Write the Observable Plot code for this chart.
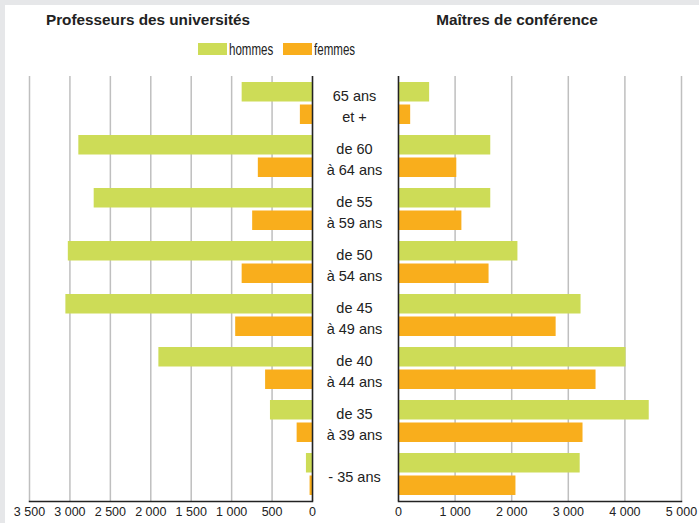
<!DOCTYPE html>
<html><head><meta charset="utf-8">
<script src="https://cdn.jsdelivr.net/npm/d3@7"></script>
<script src="https://cdn.jsdelivr.net/npm/@observablehq/plot@0.6"></script>
<style>
html,body{margin:0;padding:0;background:#e6e7e9;}
#wrap{position:relative;width:699px;height:523px;overflow:hidden;}
#panel{position:absolute;left:5px;top:5px;width:694px;height:518px;background:#fff;}
.title{position:absolute;top:11px;font:bold 15.3px "Liberation Sans",Arial,sans-serif;color:#222;white-space:nowrap;transform:translateX(-50%);}
.sw{position:absolute;top:43px;width:29px;height:12px;}
.lt{position:absolute;top:40px;font:16.5px "Liberation Sans",Arial,sans-serif;color:#222;transform:scaleX(0.7);transform-origin:left center;}
#left,#right{position:absolute;top:0;}
#left{left:0;} #right{left:340px;}
svg{overflow:visible;}
</style></head>
<body>
<div id="wrap"><div id="panel"></div>
<div class="title" style="left:148px">Professeurs des universités</div>
<div class="title" style="left:517px">Maîtres de conférence</div>
<div class="sw" style="left:198px;background:#cddc57"></div><div class="lt" style="left:229px">hommes</div>
<div class="sw" style="left:283px;background:#f9ae1c"></div><div class="lt" style="left:314px">femmes</div>
<div id="left"></div><div id="right"></div>
</div>
<script>
const ages = ["65 ans\net +","de 60\nà 64 ans","de 55\nà 59 ans","de 50\nà 54 ans","de 45\nà 49 ans","de 40\nà 44 ans","de 35\nà 39 ans","- 35 ans"];
const sexes = ["hommes","femmes"];
const colors = ["#cddc57","#f9ae1c"];
const pruHommes = [870, 2890, 2700, 3020, 3050, 1900, 520, 75];
const pruFemmes = [150, 670, 740, 870, 950, 580, 190, 30];
const mcfHommes = [550, 1630, 1630, 2110, 3225, 4020, 4430, 3210];
const mcfFemmes = [215, 1030, 1120, 1600, 2785, 3490, 3260, 2075];
const pruTicks = [0, 500, 1000, 1500, 2000, 2500, 3000, 3500];
const mcfTicks = [0, 1000, 2000, 3000, 4000, 5000];

const fmt = d => d3.format(",")(d).replace(/,/g, " ");
const rows = (h, f) => ages.flatMap((a, i) => [{age: a, sex: "hommes", v: h[i]}, {age: a, sex: "femmes", v: f[i]}]);
const style = {fontFamily: '"Liberation Sans",Arial,sans-serif', fontSize: "12.5px", color: "#222", background: "transparent", overflow: "visible"};

function panel(data, ticks, opts, extra) {
  return Plot.plot({
    ...opts,
    height: 523, marginTop: 76, marginBottom: 22,
    style,
    x: {domain: [ticks[0], ticks[ticks.length - 1]], reverse: opts.reverse, ticks, tickFormat: fmt, tickSize: 0, tickPadding: 6, label: null},
    y: {domain: ages, paddingInner: 0.2, paddingOuter: 0.1, axis: null},
    color: {domain: sexes, range: colors},
    marks: [
      Plot.ruleX(ticks, {stroke: "#bfbfbf", strokeWidth: 1.5}),
      Plot.barX(data.filter(d => d.sex === "hommes"), {x: "v", y: "age", fill: "sex", insetBottom: 22.5}),
      Plot.barX(data.filter(d => d.sex === "femmes"), {x: "v", y: "age", fill: "sex", insetTop: 22.5}),
      Plot.ruleX([0], {stroke: "#222", strokeWidth: 1.5}),
      Plot.frame({anchor: "bottom", stroke: "#222", strokeWidth: 1.5}),
      ...extra
    ]
  });
}

document.getElementById("left").append(panel(rows(pruHommes, pruFemmes), pruTicks,
  {width: 340, marginLeft: 29, marginRight: 28, reverse: true}, []));
document.getElementById("right").append(panel(rows(mcfHommes, mcfFemmes), mcfTicks,
  {width: 359, marginLeft: 58, marginRight: 18, reverse: false},
  [Plot.text(ages, {y: d => d, text: d => d, frameAnchor: "left", dx: -44, dy: 1, textAnchor: "middle", lineHeight: 1.5,
    fontFamily: '"Liberation Sans",Arial,sans-serif', fontSize: 14.5, fill: "#222"})]));
</script>
</body></html>
